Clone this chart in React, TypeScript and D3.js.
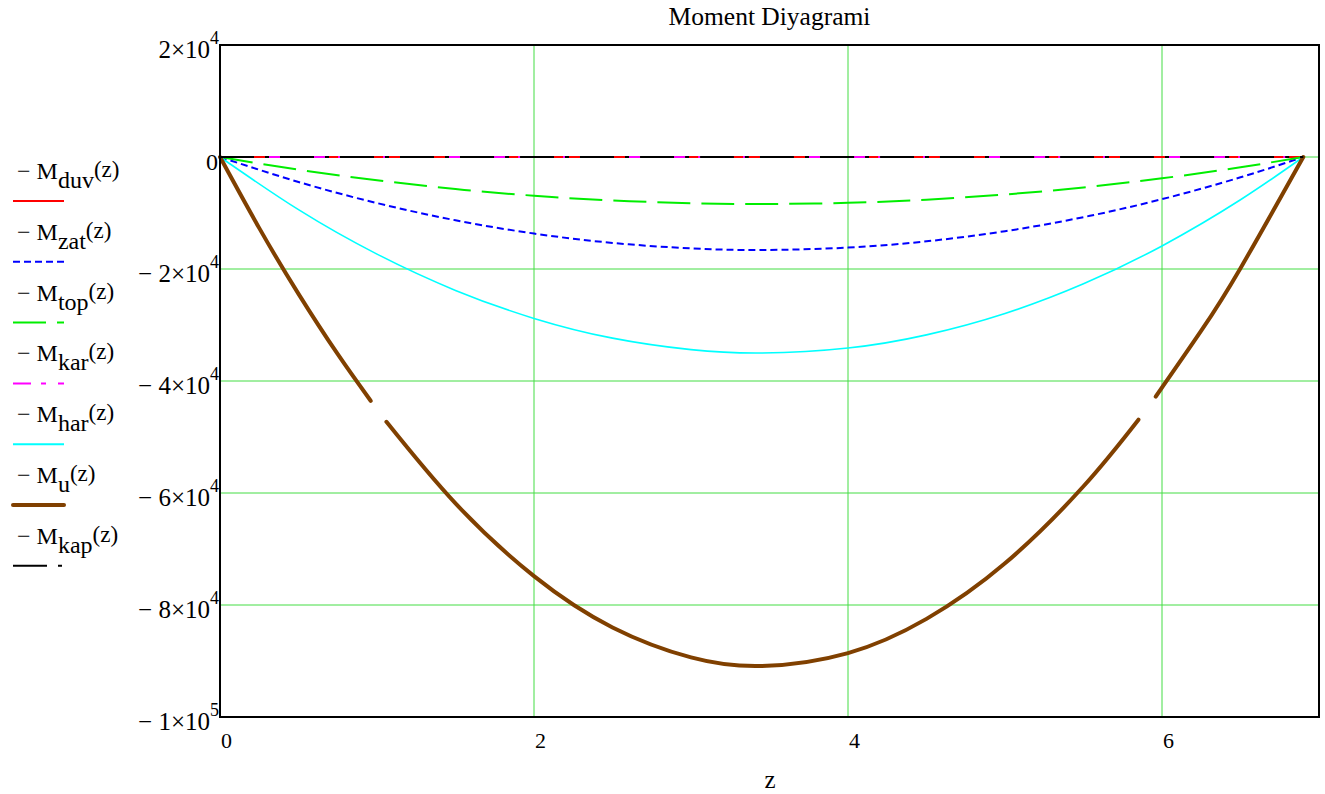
import React from "react";
import * as d3 from "d3";

// ---- data ----
const zGrid = [0, 0.5, 1, 1.5, 2, 2.5, 3, 3.45, 4, 4.5, 5, 5.5, 6, 6.5, 6.9];
const zeroLine = [0, 0, 0, 0, 0, 0, 0, 0, 0, 0, 0, 0, 0, 0, 0];
const Mzat = [0, -4460, -8230, -11300, -13670, -15340, -16320, -16600, -16180, -15060, -13250, -10740, -7530, -3630, 0];
const Mtop = [0, -2260, -4160, -5720, -6920, -7760, -8260, -8400, -8190, -7620, -6700, -5430, -3810, -1830, 0];
const Mhar = [0, -9410, -17350, -23820, -28820, -32350, -34400, -35000, -34110, -31760, -27940, -22640, -15880, -7640, 0];
const zU = [0, 0.25, 0.5, 0.75, 0.96, 1.0, 1.06, 1.5, 2, 2.5, 3, 3.45, 4, 4.5, 5, 5.5, 5.85, 5.9, 5.96, 6.25, 6.5, 6.9];
const Mu: (number | null)[] = [0, -12700, -24440, -35220, -43540, null, -47280, -61860, -74850, -84010, -89360, -90900, -88590, -82480, -72560, -58800, -46910, null, -42790, -31020, -19850, 0];

const xTicks = [0, 2, 4, 6];
const yTicks = [20000, 0, -20000, -40000, -60000, -80000, -100000];
const yTickMantissa = ["2", "0", "− 2", "− 4", "− 6", "− 8", "− 1"];
const yTickExp = ["4", "", "4", "4", "4", "4", "5"];

const seriesNames = ["duv", "zat", "top", "kar", "har", "u", "kap"];

type Series = { name: string; z: number[]; v: (number | null)[]; color: string; width: number; dash: string };
const series: Series[] = [
  { name: "duv", z: zGrid, v: zeroLine, color: "#ff0000", width: 2, dash: "" },
  { name: "zat", z: zGrid, v: Mzat, color: "#0000ff", width: 2, dash: "7,4" },
  { name: "top", z: zGrid, v: Mtop, color: "#00ee00", width: 2, dash: "33,11" },
  { name: "kar", z: zGrid, v: zeroLine, color: "#ff00ff", width: 2, dash: "18,10,5,12" },
  { name: "har", z: zGrid, v: Mhar, color: "#00ffff", width: 1.6, dash: "" },
  { name: "u", z: zU, v: Mu, color: "#804000", width: 4, dash: "" },
  { name: "kap", z: zGrid, v: zeroLine, color: "#000000", width: 2, dash: "34,11,4,11" },
];

const FONT = "'Liberation Serif', 'Times New Roman', serif";

export default function App() {
  const left = 220, right = 1319, top = 45, bottom = 717;
  const x = d3.scaleLinear().domain([0, 7]).range([left, right]);
  const y = d3.scaleLinear().domain([20000, -100000]).range([top, bottom]);
  const grid = "#44dd44";

  return (
    <svg width={1325} height={794} style={{ position: "absolute", left: 0, top: 0, background: "#fff" }} fontFamily={FONT}>
      {/* title */}
      <text x={(left + right) / 2} y={25} textAnchor="middle" fontSize={25.5}>Moment Diyagrami</text>

      {/* grid */}
      {yTicks.filter((t) => t < 20000 && t > -100000).map((t) => (
        <line key={"gy" + t} x1={left} x2={right} y1={y(t)} y2={y(t)} stroke={grid} strokeWidth={1} />
      ))}
      {xTicks.filter((t) => t > 0).map((t) => (
        <line key={"gx" + t} x1={x(t)} x2={x(t)} y1={top} y2={bottom} stroke={grid} strokeWidth={1} />
      ))}

      {/* series */}
      {series.map((s) => {
        const pts = s.z.map((zz, i) => [zz, s.v[i]] as [number, number | null]);
        const gen = d3
          .line<[number, number | null]>()
          .defined((d) => d[1] !== null)
          .x((d) => x(d[0]))
          .y((d) => y(d[1] as number))
          .curve(d3.curveNatural);
        return (
          <path key={s.name} d={gen(pts) || ""} fill="none" stroke={s.color} strokeWidth={s.width}
            strokeDasharray={s.dash || undefined} strokeLinecap={s.name === "u" ? "round" : "butt"} />
        );
      })}

      {/* frame */}
      <rect x={left} y={top} width={right - left} height={bottom - top} fill="none" stroke="#000" strokeWidth={2} />

      {/* y tick labels */}
      {yTicks.map((t, i) =>
        yTickExp[i] ? (
          <text key={"yl" + t} x={219} y={y(t) + 13} textAnchor="end" fontSize={25}>
            {yTickMantissa[i]}×10
            <tspan dy={-14} fontSize={18}>{yTickExp[i]}</tspan>
          </text>
        ) : (
          <text key={"yl" + t} x={218} y={y(t) + 13} textAnchor="end" fontSize={24}>{yTickMantissa[i]}</text>
        )
      )}

      {/* x tick labels */}
      {xTicks.map((t) => (
        <text key={"xl" + t} x={x(t) + 1} y={748} textAnchor="start" fontSize={22}>{t}</text>
      ))}
      <text x={770} y={788} textAnchor="middle" fontSize={25}>z</text>

      {/* legend */}
      {series.map((s, i) => {
        const ly = 201 + i * 60.8;
        return (
          <g key={"lg" + s.name}>
            <text x={17} y={ly - 22} fontSize={24}>
              − M<tspan dy={9} fontSize={24}>{seriesNames[i]}</tspan>
              <tspan dy={-11} fontSize={23}>(z)</tspan>
            </text>
            <line x1={13} x2={64} y1={ly} y2={ly} stroke={s.color} strokeWidth={s.name === "u" ? 4 : 2}
              strokeDasharray={s.dash || undefined} strokeLinecap={s.name === "u" ? "round" : "butt"} />
          </g>
        );
      })}
    </svg>
  );
}
